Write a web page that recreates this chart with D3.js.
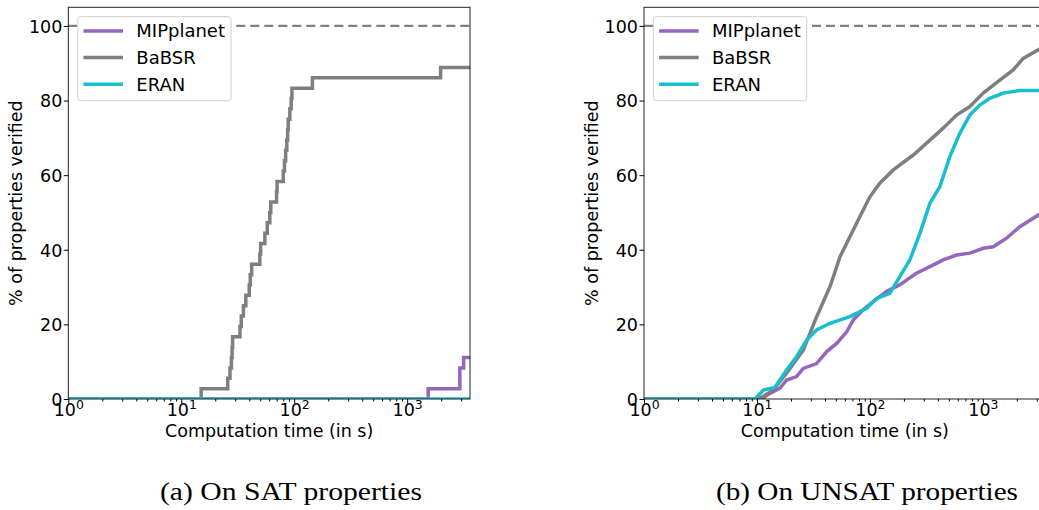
<!DOCTYPE html>
<html lang="en">

<head>
    <meta charset="UTF-8">
    <title>Verification time curves</title>
    <script src="https://d3js.org/d3.v7.min.js"></script>
    <style>
        body { margin: 0; background: #fff; }
        text { font-family: "DejaVu Sans", sans-serif; fill: #000; }
        .caption { font-family: "Liberation Serif", "Times New Roman", serif; }
    </style>
</head>

<body>
    <svg width="1039" height="510"></svg>
    <script>
        // data: [time in s, % verified]
        const methods = ["MIPplanet", "BaBSR", "ERAN"];
        const timeTicks = [1, 10, 100, 1000];
        const pctTicks = [0, 20, 40, 60, 80, 100];

        const satMIPplanet = [[1, 0], [1535, 0], [1535, 2.78], [2926, 2.78], [2926, 8.33], [3160, 8.33], [3160, 11.11], [3600, 11.11]];
        const satBaBSR = [[1, 0], [15, 0], [15, 2.78], [25.8, 5.56], [27, 8.33], [27.8, 11.11], [28.2, 13.89], [28.5, 16.67],
            [33.1, 19.44], [34, 22.22], [35.5, 25], [37.3, 27.78], [40, 30.56], [40.8, 33.33], [42, 36.11], [49.6, 38.89],
            [50.5, 41.67], [55, 44.44], [57.7, 47.22], [60.8, 50], [62, 52.78], [69.8, 55.56], [70.5, 58.33], [80, 61.11],
            [82, 63.89], [84, 66.67], [86, 69.44], [87.5, 72.22], [88.5, 75], [91.5, 77.78], [94, 80.56], [95.5, 83.33],
            [145, 86.11], [1977, 88.89], [3600, 88.89]];
        const satERAN = [[1, 0], [3600, 0]];

        const unsatMIPplanet = [[1, 0], [11, 0], [13, 1.5], [16, 2.9], [18.3, 5.1], [22.4, 6], [25.7, 8.2], [33.7, 9.5],
            [41.5, 12.7], [50.8, 14.9], [62.3, 18], [71.3, 21.2], [87.1, 23.9], [107, 26.1], [140, 28.8], [184, 30.6],
            [258, 33.7], [340, 35.5], [445, 37.3], [585, 38.6], [767, 39.1], [1007, 40.4], [1236, 40.8], [1620, 43.1],
            [2125, 46.2], [3090, 49.3], [3600, 50.3]];
        const unsatBaBSR = [[1, 0], [10.3, 0], [11.5, 0.8], [13.9, 2.4], [18.3, 6.9], [25.7, 13.1], [33.7, 22], [44.3, 30.1],
            [54.3, 38.1], [66.5, 43.5], [81.6, 48.9], [100, 54.2], [122, 57.8], [161, 61.4], [242, 65.4], [340, 69.4],
            [445, 72.6], [585, 76.1], [767, 78.4], [1007, 82], [1413, 85.5], [1855, 88.2], [2274, 91.3], [3090, 93.6], [3600, 94.6]];
        const unsatERAN = [[1, 0], [9.6, 0], [11.4, 2.4], [14.4, 3.1], [18.3, 7.8], [22.4, 11.3], [27.5, 15.8], [33.7, 18.5],
            [44.3, 20.3], [66.5, 22.1], [93.5, 24.3], [115, 27], [150, 28.3], [184, 32.8], [226, 37.3], [277, 44.4],
            [340, 52.5], [416, 56.9], [510, 65], [625, 71.2], [767, 76.1], [940, 78.8], [1153, 80.6], [1513, 82],
            [2125, 82.7], [3600, 82.7]];

        const colors = { MIPplanet: "#9467bd", BaBSR: "#7f7f7f", ERAN: "#17becf" };

        const plotW = 401.7, plotH = 391.7;
        const svg = d3.select("svg");

        function drawPanel(id, left, series, captionText, captionX, captionW) {
            const g = svg.append("g").attr("transform", `translate(${left},7.3)`);

            const x = d3.scaleLog().domain([1, 3600]).range([0, plotW]);
            const y = d3.scaleLinear().domain([0, 105]).range([plotH, 0]);

            g.append("clipPath").attr("id", id)
                .append("rect").attr("width", plotW).attr("height", plotH);

            // reference line at 100 %
            g.append("line")
                .attr("x1", 0).attr("x2", plotW)
                .attr("y1", y(100)).attr("y2", y(100))
                .attr("stroke", "#808080").attr("stroke-width", 2.2)
                .attr("stroke-dasharray", "9,5");

            const step = id === "clipA";
            const line = d3.line()
                .x(d => x(d[0]))
                .y(d => y(d[1]))
                .curve(step ? d3.curveStepAfter : d3.curveLinear);

            methods.forEach(m => {
                g.append("path")
                    .datum(series[m])
                    .attr("clip-path", `url(#${id})`)
                    .attr("fill", "none")
                    .attr("stroke", colors[m])
                    .attr("stroke-width", 3.5)
                    .attr("d", line);
            });

            // frame
            g.append("rect")
                .attr("width", plotW).attr("height", plotH)
                .attr("fill", "none").attr("stroke", "#222").attr("stroke-width", 1);

            // x axis, major + minor
            const minor = [];
            [1, 10, 100, 1000].forEach(b => d3.range(2, 10).forEach(k => { if (b * k <= 3600) minor.push(b * k); }));

            g.append("g")
                .attr("transform", `translate(0,${plotH})`)
                .call(d3.axisBottom(x).tickValues(minor).tickSize(2.5).tickFormat(""))
                .call(a => a.select(".domain").remove());

            const xAxis = g.append("g")
                .attr("transform", `translate(0,${plotH})`)
                .call(d3.axisBottom(x).tickValues(timeTicks).tickSize(4.5).tickFormat(""));
            xAxis.select(".domain").remove();
            xAxis.selectAll(".tick").append("text")
                .attr("y", 16.5)
                .attr("text-anchor", "middle")
                .style("font-size", "17.5px")
                .each(function (d) {
                    const t = d3.select(this);
                    t.append("tspan").text("10");
                    t.append("tspan").attr("dy", -7).style("font-size", "12.5px").text(Math.round(Math.log10(d)));
                });

            // y axis
            const yAxis = g.append("g")
                .call(d3.axisLeft(y).tickValues(pctTicks).tickSize(4.5).tickPadding(1.5));
            yAxis.select(".domain").remove();
            yAxis.selectAll("text").style("font-size", "17.5px").attr("dy", "0.36em");

            g.append("text")
                .attr("x", plotW / 2)
                .attr("y", 430)
                .attr("text-anchor", "middle")
                .style("font-size", "17.5px")
                .text("Computation time (in s)");

            g.append("text")
                .attr("transform", "rotate(-90)")
                .attr("x", -plotH / 2)
                .attr("y", -46)
                .attr("text-anchor", "middle")
                .style("font-size", "17.5px")
                .text("% of properties verified");

            // legend
            const leg = g.append("g").attr("transform", "translate(9.4,9.4)");
            leg.append("rect")
                .attr("width", 153.3).attr("height", 84)
                .attr("rx", 3)
                .attr("fill", "#fff").attr("stroke", "#d0d0d0").attr("stroke-width", 1);
            methods.forEach((m, i) => {
                const cy = 14.3 + i * 26.6;
                leg.append("line")
                    .attr("x1", 5.7).attr("x2", 45.3)
                    .attr("y1", cy).attr("y2", cy)
                    .attr("stroke", colors[m]).attr("stroke-width", 3.5);
                leg.append("text")
                    .attr("x", 58.6).attr("y", cy + 6.4)
                    .style("font-size", "18px")
                    .text(m);
            });

            svg.append("text")
                .attr("class", "caption")
                .attr("x", captionX)
                .attr("y", 500)
                .attr("textLength", captionW)
                .attr("lengthAdjust", "spacingAndGlyphs")
                .style("font-size", "25px")
                .text(captionText);
        }

        drawPanel("clipA", 68.3, { MIPplanet: satMIPplanet, BaBSR: satBaBSR, ERAN: satERAN },
            "(a) On SAT properties", 160, 262);
        drawPanel("clipB", 644, { MIPplanet: unsatMIPplanet, BaBSR: unsatBaBSR, ERAN: unsatERAN },
            "(b) On UNSAT properties", 716, 302);
    </script>
</body>

</html>
